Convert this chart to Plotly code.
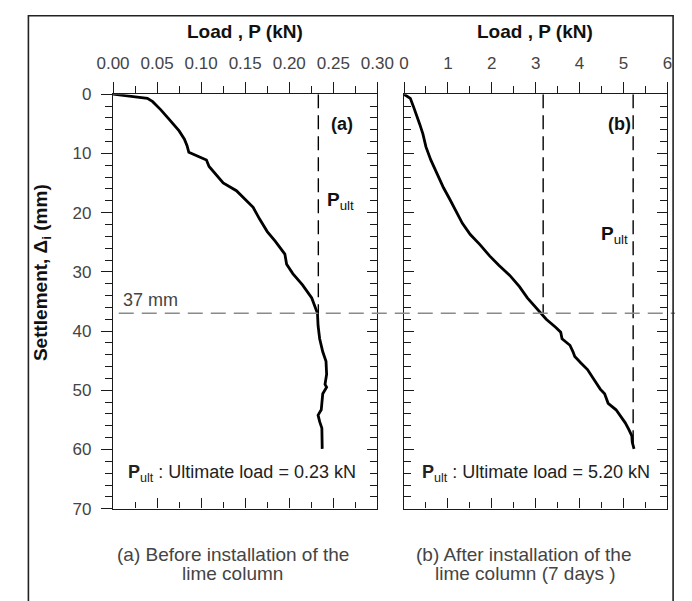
import plotly.graph_objects as go

# ---------------- data ----------------
# Panel (a): before installation of the lime column
load_a = [0, 0.0215, 0.039, 0.045, 0.054, 0.064, 0.075, 0.081, 0.084, 0.086, 0.093, 0.106,
          0.109, 0.115, 0.125, 0.140, 0.150, 0.159, 0.166, 0.175, 0.184, 0.195, 0.197, 0.204,
          0.215, 0.2255, 0.229, 0.232, 0.2327, 0.2345, 0.238, 0.2417, 0.2424, 0.2406, 0.2424,
          0.238, 0.2363, 0.2327, 0.2345, 0.237, 0.2374]
settle_a = [0, 0.44, 0.7, 1.26, 2.6, 4.3, 6.2, 7.6, 8.7, 9.8, 10.3, 11.1,
            12.2, 13.3, 15.0, 16.3, 17.7, 19.1, 21.0, 23.2, 24.8, 27.0, 28.7, 30.3,
            32.2, 34.4, 35.8, 37.0, 39.1, 41.3, 43.5, 45.1, 47.3, 49.0, 49.5,
            50.6, 53.3, 54.2, 55.3, 56.4, 59.9]

# Panel (b): after installation of the lime column (7 days)
load_b = [0, 0.144, 0.216, 0.288, 0.36, 0.43, 0.50, 0.61, 0.76, 0.90, 1.04, 1.19, 1.33,
          1.51, 1.73, 1.95, 2.16, 2.41, 2.63, 2.81, 3.03, 3.17, 3.24, 3.46, 3.57, 3.60,
          3.78, 3.85, 3.89, 4.03, 4.18, 4.32, 4.47, 4.57, 4.65, 4.83, 4.94, 5.04, 5.12,
          5.19, 5.20, 5.24]
settle_b = [0, 0.7, 2.1, 3.5, 5.1, 6.7, 8.9, 11.1, 13.6, 15.8, 17.7, 19.9, 21.8,
            23.7, 25.4, 27.3, 28.9, 30.6, 32.5, 34.4, 36.3, 37.4, 38.0, 39.4, 40.2, 41.3,
            42.4, 43.5, 44.3, 45.4, 46.5, 48.1, 49.8, 50.6, 52.2, 53.3, 54.4, 55.5, 56.6,
            57.7, 58.8, 59.9]

ref_settlement = 37          # mm
pult_a_line = 0.233          # kN
p_37_b = 3.17                # kN (load at 37 mm, panel b)
pult_b_line = 5.22           # kN
pult_b_line_end = 59.5       # mm

x_ticks_a = [0, 0.05, 0.10, 0.15, 0.20, 0.25, 0.30]
x_ticks_b = [0, 1, 2, 3, 4, 5, 6]
y_ticks = [0, 10, 20, 30, 40, 50, 60, 70]

# ---------------- layout helpers ----------------
W, H = 692, 601
def px(x):
    return x / W
def py(y):
    return 1 - y / H

FONT = "Liberation Sans, Arial, sans-serif"
AX = "#1a1a1a"
TXT = "#444444"

xa_dom = [px(101), px(379)]
xb_dom = [px(407), px(684)]
y_dom = [py(516), py(88)]

fig = go.Figure()

fig.add_trace(go.Scatter(x=load_a, y=settle_a, mode="lines",
                         line=dict(color="black", width=2.8), xaxis="x", yaxis="y",
                         showlegend=False, hoverinfo="skip"))
fig.add_trace(go.Scatter(x=load_b, y=settle_b, mode="lines",
                         line=dict(color="black", width=2.8), xaxis="x2", yaxis="y2",
                         showlegend=False, hoverinfo="skip"))

DASH_V = "14px,7px"
fig.add_trace(go.Scatter(x=[pult_a_line, pult_a_line], y=[0, ref_settlement], mode="lines",
                         line=dict(color="black", width=1.4, dash=DASH_V),
                         xaxis="x3", yaxis="y3", showlegend=False, hoverinfo="skip"))
fig.add_trace(go.Scatter(x=[p_37_b, p_37_b], y=[0, ref_settlement], mode="lines",
                         line=dict(color="black", width=1.4, dash=DASH_V),
                         xaxis="x4", yaxis="y2", showlegend=False, hoverinfo="skip"))
fig.add_trace(go.Scatter(x=[pult_b_line, pult_b_line], y=[0, pult_b_line_end], mode="lines",
                         line=dict(color="black", width=1.4, dash=DASH_V),
                         xaxis="x4", yaxis="y2", showlegend=False, hoverinfo="skip"))

tickfont = dict(family=FONT, size=17, color=TXT)

common_x = dict(showgrid=False, zeroline=False, showline=True, linecolor=AX, linewidth=1.4,
                tickcolor=AX, tickwidth=1.2, fixedrange=True)
common_y = dict(showgrid=False, zeroline=False, showline=True, linecolor=AX, linewidth=1.4,
                tickcolor=AX, tickwidth=1.2, fixedrange=True, range=[70, 0])

fig.update_layout(
    width=W, height=H,
    margin=dict(l=0, r=0, t=0, b=0),
    paper_bgcolor="white", plot_bgcolor="white",
    showlegend=False,
    xaxis=dict(**common_x, domain=xa_dom, anchor="y", side="top", range=[0, 0.30],
               tickvals=x_ticks_a, tickformat=".2f", ticks="outside", ticklen=11,
               ticklabelstandoff=6, tickfont=tickfont,
               minor=dict(dtick=0.025, tick0=0, ticks="outside", ticklen=7, tickcolor=AX)),
    xaxis3=dict(**common_x, domain=xa_dom, anchor="y", overlaying="x", side="bottom",
                range=[0, 0.30], tickvals=x_ticks_a, ticks="inside", ticklen=10,
                showticklabels=False,
                minor=dict(dtick=0.025, tick0=0, ticks="inside", ticklen=6, tickcolor=AX)),
    yaxis=dict(**common_y, domain=y_dom, anchor="x", side="left", tickvals=y_ticks,
               ticks="outside", ticklen=11, ticklabelstandoff=6, tickfont=tickfont,
               minor=dict(dtick=2, tick0=0, ticks="outside", ticklen=7, tickcolor=AX)),
    yaxis3=dict(**common_y, domain=y_dom, anchor="x", overlaying="y", side="right",
                tickvals=y_ticks, ticks="inside", ticklen=10, showticklabels=False,
                minor=dict(dtick=2, tick0=0, ticks="inside", ticklen=7, tickcolor=AX)),
    xaxis2=dict(**common_x, domain=xb_dom, anchor="y2", side="top", range=[0, 6],
                tickvals=x_ticks_b, ticks="outside", ticklen=11, ticklabelstandoff=6,
                tickfont=tickfont,
                minor=dict(dtick=0.5, tick0=0, ticks="outside", ticklen=7, tickcolor=AX)),
    xaxis4=dict(**common_x, domain=xb_dom, anchor="y2", overlaying="x2", side="bottom",
                range=[0, 6], tickvals=x_ticks_b, ticks="inside", ticklen=10,
                showticklabels=False,
                minor=dict(dtick=0.5, tick0=0, ticks="inside", ticklen=6, tickcolor=AX)),
    yaxis2=dict(**common_y, domain=y_dom, anchor="x2", side="left", tickvals=y_ticks,
                ticks="inside", ticklen=10, mirror="ticks", showticklabels=False,
                minor=dict(dtick=2, tick0=0, ticks="inside", ticklen=7, tickcolor=AX)),
)

# horizontal 37 mm reference line across both panels
fig.add_shape(type="line", xref="paper", yref="y", x0=px(107), x1=px(692),
              y0=ref_settlement, y1=ref_settlement,
              line=dict(color="#8a8a8a", width=1.4, dash="15px,8px"))

# outer frame
fig.add_shape(type="rect", xref="paper", yref="paper", x0=px(12), x1=px(690),
              y0=py(640), y1=py(7), line=dict(color="#222", width=1.6))

ann = []
def A(text, x, y, xref, yref, size=18, xanchor="center", yanchor="middle", angle=0,
      color=TXT):
    ann.append(dict(text=text, x=x, y=y, xref=xref, yref=yref, showarrow=False,
                    xanchor=xanchor, yanchor=yanchor, textangle=angle,
                    font=dict(family=FONT, size=size, color=color)))

A("<b>Load , P (kN)</b>", px(240), py(23), "paper", "paper", size=19, color="#111")
A("<b>Load , P (kN)</b>", px(545), py(23), "paper", "paper", size=19, color="#111")
A("<b>Settlement, Δ<sub>i</sub> (mm)</b>", px(27), py(272), "paper", "paper", size=19,
  angle=-90, color="#111")

A("<b>(a)</b>", 0.26, 5.1, "x", "y", size=18, color="#111")
A("<b>(b)</b>", 4.9, 5.1, "x2", "y2", size=18, color="#111")
A("<b>P</b><sub>ult</sub>", 0.2406, 18, "x", "y", size=19, xanchor="left", color="#111")
A("<b>P</b><sub>ult</sub>", 4.45, 23.7, "x2", "y2", size=19, xanchor="left", color="#111")
A("37 mm", 0.009, 34.7, "x", "y", size=18, xanchor="left")

A("<b>P</b><sub>ult</sub> : Ultimate load = 0.23 kN", 0.015, 64, "x", "y", size=18,
  xanchor="left", color="#222")
A("<b>P</b><sub>ult</sub> : Ultimate load = 5.20 kN", 0.37, 64, "x2", "y2", size=18,
  xanchor="left", color="#222")

A("(a) Before installation of the", px(227), py(563), "paper", "paper", size=19)
A("lime column", px(227), py(583), "paper", "paper", size=19)
A("(b) After installation of the", px(533), py(563), "paper", "paper", size=19)
A("lime column (7 days )", px(535), py(583), "paper", "paper", size=19)

fig.update_layout(annotations=ann)

fig.write_html("out.html", config={"displayModeBar": False},
               post_script="document.body.style.margin='0px';")
